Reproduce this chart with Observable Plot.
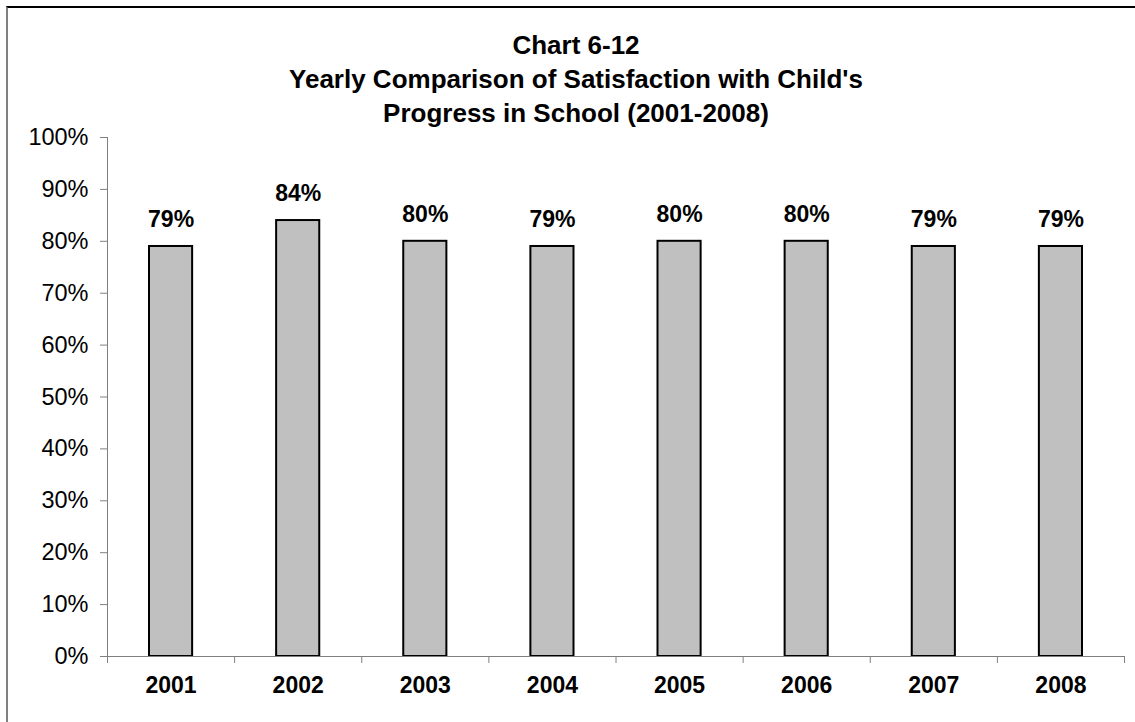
<!DOCTYPE html>
<html>
<head>
<meta charset="utf-8">
<script src="https://cdn.jsdelivr.net/npm/d3@7"></script>
<script src="https://cdn.jsdelivr.net/npm/@observablehq/plot@0.6"></script>
<style>
  html, body { margin: 0; padding: 0; background: #fff; }
  body { width: 1135px; height: 722px; overflow: hidden; position: relative; font-family: "Liberation Sans", Arial, sans-serif; }
  #frame { position: absolute; left: 6px; top: 6px; width: 1200px; height: 800px; border-top: 2px solid #000; border-left: 2px solid #808080; box-sizing: border-box; }
  #title { position: absolute; left: 0; width: 1152px; top: 28px; text-align: center; font-weight: bold; font-size: 26px; line-height: 34px; color: #000; white-space: nowrap; }
  #chart { position: absolute; left: 0; top: 0; }
</style>
</head>
<body>
<div id="frame"></div>
<div id="chart"></div>
<div id="title">Chart 6-12<br>Yearly Comparison of Satisfaction with Child's<br>Progress in School (2001-2008)</div>
<script>
const years = ["2001", "2002", "2003", "2004", "2005", "2006", "2007", "2008"];
const satisfaction = [0.79, 0.84, 0.80, 0.79, 0.80, 0.80, 0.79, 0.79];
const yTicks = [0, 0.1, 0.2, 0.3, 0.4, 0.5, 0.6, 0.7, 0.8, 0.9, 1.0];

const data = years.map((y, i) => ({ year: y, i, v: satisfaction[i] }));
const n = years.length;
const pct = d => Math.round(d * 100) + "%";

const chart = Plot.plot({
  width: 1135,
  height: 722,
  marginLeft: 107,
  marginRight: 11,
  marginTop: 137,
  marginBottom: 66,
  style: { fontFamily: "'Liberation Sans', Arial, sans-serif", background: "transparent", color: "#000" },
  x: { type: "linear", domain: [0, n], axis: null, label: null },
  y: { domain: [0, 1], axis: null, label: null },
  marks: [
    Plot.ruleX([0], { stroke: "#808080", strokeWidth: 1 }),
    Plot.axisY({ ticks: yTicks, tickFormat: pct, tickSize: 7, tickPadding: 12, fontSize: 23.5, label: null, stroke: "#808080", strokeOpacity: 1, fill: "#000" }),
    Plot.rectY(data, { x1: "i", x2: d => d.i + 1, y1: 0, y2: "v", fill: "#c0c0c0", stroke: "#000", strokeWidth: 2, insetLeft: 42, insetRight: 42 }),
    Plot.ruleY([0], { stroke: "#808080", strokeWidth: 1 }),
    Plot.axisX({ ticks: d3.range(0, n + 1), tickFormat: () => "", tickSize: 7, label: null, stroke: "#808080", strokeOpacity: 1 }),
    Plot.text(data, { x: d => d.i + 0.5, y: "v", text: d => pct(d.v), dy: -27, fontWeight: "bold", fontSize: 23, fill: "#000" }),
    Plot.text(data, { x: d => d.i + 0.5, frameAnchor: "bottom", text: "year", dy: 36, fontWeight: "bold", fontSize: 23, fill: "#000" })
  ]
});
document.getElementById("chart").appendChild(chart);
</script>
</body>
</html>
